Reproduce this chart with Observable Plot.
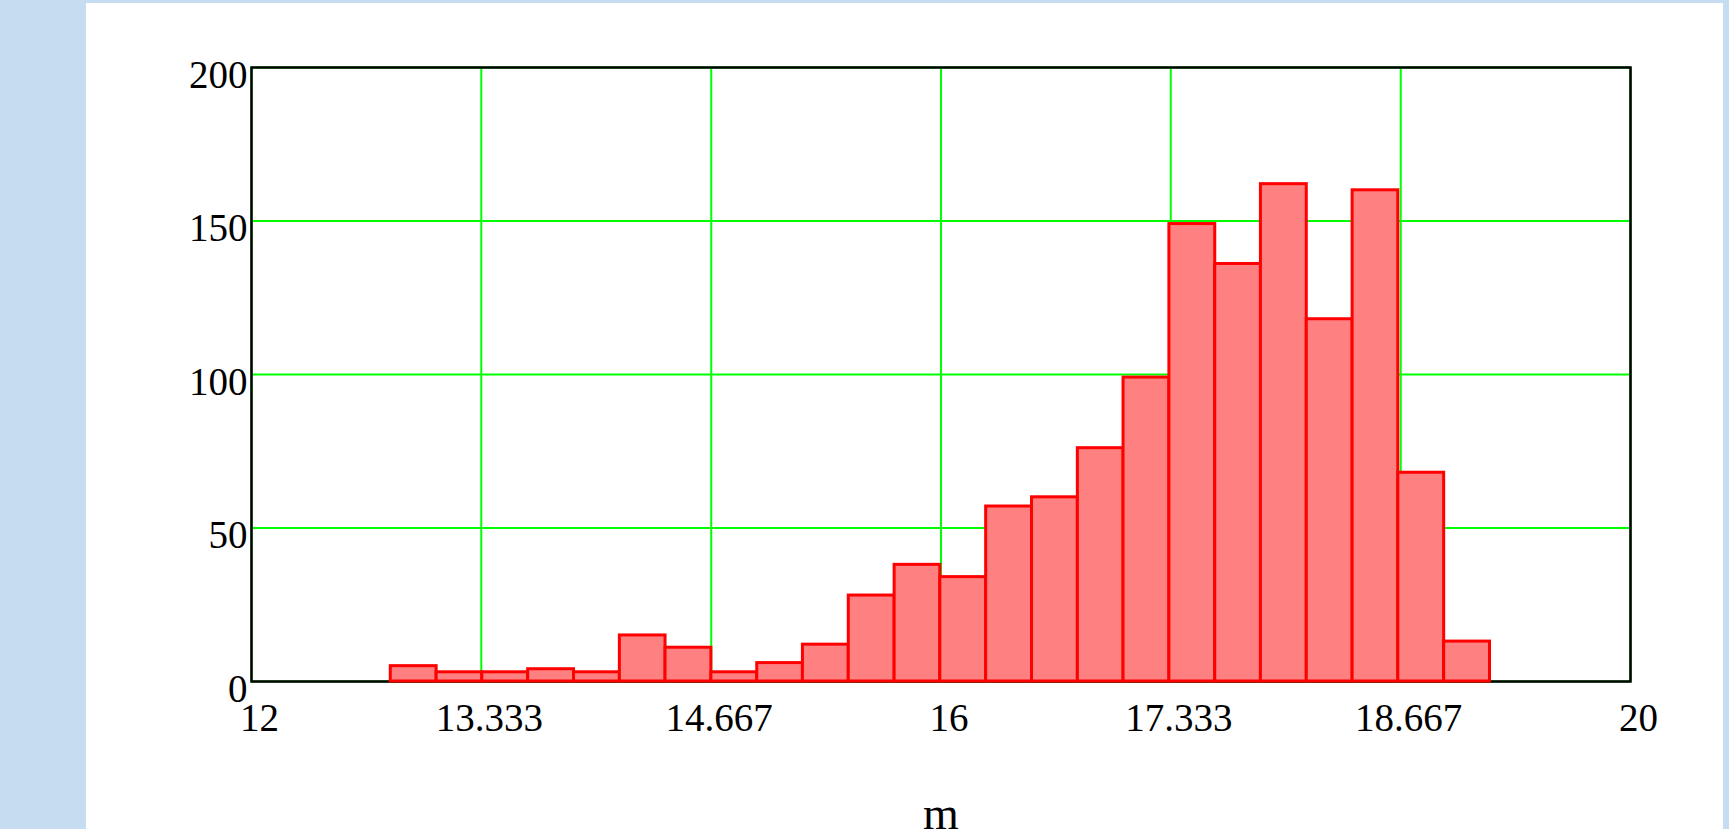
<!DOCTYPE html>
<html>
<head>
<meta charset="utf-8">
<script src="https://cdn.jsdelivr.net/npm/d3@7"></script>
<script src="https://cdn.jsdelivr.net/npm/@observablehq/plot@0.6"></script>
<style>
  html, body { margin: 0; padding: 0; width: 1729px; height: 829px; overflow: hidden; background: #c6dcf0; }
  #panel { position: absolute; left: 86px; top: 3px; width: 1637px; height: 826px; background: #ffffff; }
  #chart { position: absolute; left: 0; top: 0; }
</style>
</head>
<body>
<div id="panel"></div>
<div id="chart"></div>
<script>
// Bin edges (value of m) and counts per bin
const binEdges = [12.808, 13.074, 13.339, 13.605, 13.871, 14.137, 14.402, 14.668, 14.934, 15.199,
                  15.465, 15.731, 15.996, 16.262, 16.528, 16.794, 17.059, 17.325, 17.591, 17.856,
                  18.122, 18.388, 18.653, 18.919, 19.185];
const counts = [5, 3, 3, 4, 3, 15, 11, 3, 6, 12, 28, 38, 34, 57, 60, 76, 99, 149, 136, 162, 118, 160, 68, 13];

const xTicks = [12, 13.333, 14.667, 16, 17.333, 18.667, 20];
const xTickLabels = ["12", "13.333", "14.667", "16", "17.333", "18.667", "20"];
const yTicks = [0, 50, 100, 150, 200];
const xLabel = "m";

const bins = counts.map((c, i) => ({x1: binEdges[i], x2: binEdges[i + 1], count: c}));

const chart = Plot.plot({
  width: 1729,
  height: 829,
  marginLeft: 251,
  marginRight: 99,
  marginTop: 67,
  marginBottom: 148,
  style: {
    fontFamily: "'Liberation Serif', 'Times New Roman', serif",
    fontSize: "39px",
    color: "black",
    background: "transparent",
    overflow: "visible"
  },
  x: {domain: [12, 20]},
  y: {domain: [0, 200]},
  marks: [
    Plot.ruleX(xTicks, {stroke: "#00ff00", strokeWidth: 2}),
    Plot.ruleY(yTicks, {stroke: "#00ff00", strokeWidth: 2}),
    Plot.frame({stroke: "black", strokeWidth: 2.5}),
    Plot.rectY(bins, {x1: "x1", x2: "x2", y: "count", fill: "#ff8080", stroke: "#ff0000", strokeWidth: 3, inset: 0}),
    Plot.axisX({ticks: xTicks, tickFormat: d => xTickLabels[xTicks.indexOf(d)], tickSize: 0, tickPadding: 22, dx: 8, label: null}),
    Plot.axisY({ticks: yTicks, tickSize: 0, tickPadding: 4, dy: 8, label: null}),
    Plot.text([xLabel], {text: d => d, frameAnchor: "bottom", dy: 147, lineAnchor: "bottom", fontSize: 46})
  ]
});
document.getElementById("chart").appendChild(chart);
</script>
</body>
</html>
